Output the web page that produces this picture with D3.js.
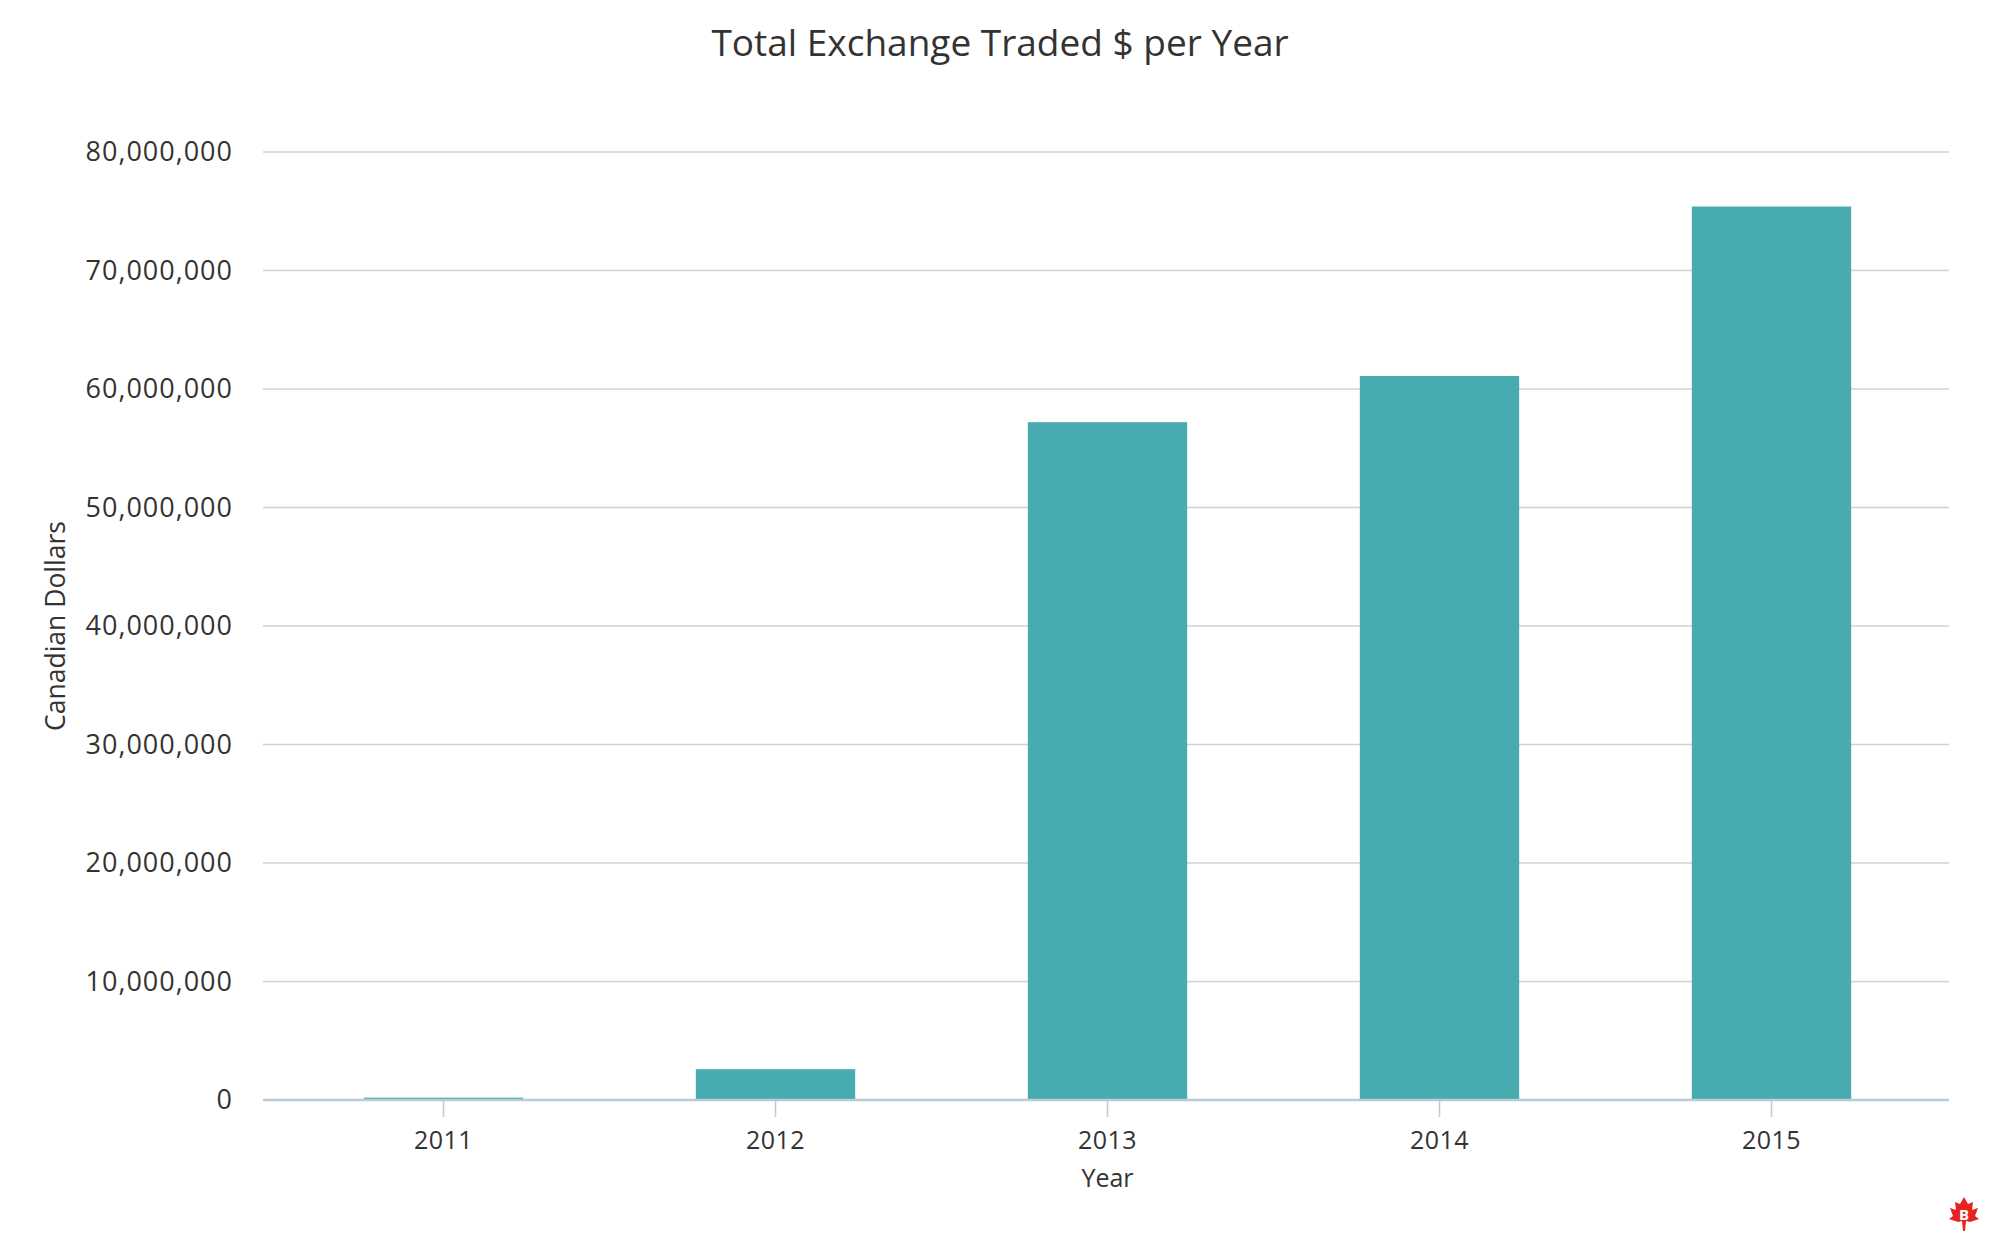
<!DOCTYPE html>
<html>
<head>
<meta charset="utf-8">
<script src="https://cdn.jsdelivr.net/npm/d3@7"></script>
<style>
  body { margin: 0; background: #fff; }
  text { font-family: "Open Sans", sans-serif; fill: #333; }
</style>
</head>
<body>
<svg id="chart"></svg>
<script>
// data
const years = ["2011", "2012", "2013", "2014", "2015"];
const traded = [200000, 2600000, 57200000, 61100000, 75400000];
const yTicks = [0, 10000000, 20000000, 30000000, 40000000, 50000000, 60000000, 70000000, 80000000];

const width = 2000, height = 1250;
const margin = {top: 152, right: 51, bottom: 150, left: 263};
const innerW = width - margin.left - margin.right;
const innerH = height - margin.top - margin.bottom;

const svg = d3.select('#chart')
    .attr('width', width)
    .attr('height', height);

const chart = svg.append('g')
    .attr('transform', `translate(${margin.left}, ${margin.top})`);

// bands are a little inset from the grid
let xScale = d3.scaleBand()
    .domain(years)
    .range([14.5, innerW - 11.5])
    .paddingInner(0.52)
    .paddingOuter(0.26);

let yScale = d3.scaleLinear()
    .domain([0, 80000000])
    .range([innerH, 0]);

// grid lines
chart.append('g')
    .selectAll('line')
    .data(yTicks.slice(1))
    .join('line')
    .attr('x1', 0)
    .attr('x2', innerW)
    .attr('y1', d => yScale(d))
    .attr('y2', d => yScale(d))
    .attr('stroke', '#cfd2d6')
    .attr('stroke-width', 1.5);

// y axis labels
let yAxis = d3.axisLeft(yScale)
    .tickValues(yTicks)
    .tickFormat(d3.format(','))
    .tickSize(0)
    .tickPadding(30);

let yAxisGroup = chart.append('g')
    .attr('class', 'axis y-axis')
    .call(yAxis);
yAxisGroup.select('.domain').remove();
yAxisGroup.selectAll('text')
    .attr('font-size', 27)
    .attr('letter-spacing', '1px')
    .attr('fill', '#333')
    .attr('font-family', '"Open Sans", sans-serif');

// bars
chart.selectAll('rect.bar')
    .data(years.map((y, i) => ({year: y, value: traded[i]})))
    .join('rect')
    .attr('class', 'bar')
    .attr('fill', '#48abb0')
    .attr('x', d => xScale(d.year))
    .attr('width', xScale.bandwidth())
    .attr('y', d => yScale(d.value))
    .attr('height', d => innerH - yScale(d.value));

// x axis
let xAxis = d3.axisBottom(xScale)
    .tickSizeOuter(0)
    .tickSizeInner(17)
    .tickPadding(14);

let xAxisGroup = chart.append('g')
    .attr('class', 'axis x-axis')
    .attr('transform', `translate(0, ${innerH})`)
    .call(xAxis);
xAxisGroup.select('.domain')
    .attr('d', `M0,0H${innerW}`)
    .attr('stroke', '#b9cad8')
    .attr('stroke-width', 2.5);
xAxisGroup.selectAll('.tick line')
    .attr('stroke', '#b9cad8')
    .attr('stroke-width', 1.5);
xAxisGroup.selectAll('text')
    .attr('font-size', 25)
    .attr('letter-spacing', '0.4px')
    .attr('fill', '#333')
    .attr('font-family', '"Open Sans", sans-serif');

// axis titles
chart.append('text')
    .attr('x', xScale('2013') + xScale.bandwidth() / 2)
    .attr('y', innerH + 87)
    .attr('text-anchor', 'middle')
    .attr('font-size', 25)
    .attr('fill', '#4a4a4a')
    .text('Year');

svg.append('text')
    .attr('transform', `translate(65, ${margin.top + innerH / 2}) rotate(-90)`)
    .attr('text-anchor', 'middle')
    .attr('font-size', 26.5)
    .attr('fill', '#4a4a4a')
    .text('Canadian Dollars');

// title
svg.append('text')
    .attr('x', 1000)
    .attr('y', 56)
    .attr('text-anchor', 'middle')
    .attr('font-size', 37)
    .attr('fill', '#3d3d3d')
    .text('Total Exchange Traded $ per Year');

// small red logo, bottom right
let logo = svg.append('g')
    .attr('transform', 'translate(1964, 1214)');
logo.append('path')
    .attr('d', 'M0,-17 L4,-10 L9,-12 L8,-4 L14,-6 L11,2 L15,5 L6,8 L2,7 L1,17 L-1,17 L-2,7 L-6,8 L-15,5 L-11,2 L-14,-6 L-8,-4 L-9,-12 L-4,-10 Z')
    .attr('fill', '#e8231f');
logo.append('text')
    .attr('y', 6)
    .attr('text-anchor', 'middle')
    .attr('font-size', 15)
    .attr('font-weight', 'bold')
    .attr('font-family', 'serif')
    .style('fill', '#fff')
    .text('B');
</script>
</body>
</html>
